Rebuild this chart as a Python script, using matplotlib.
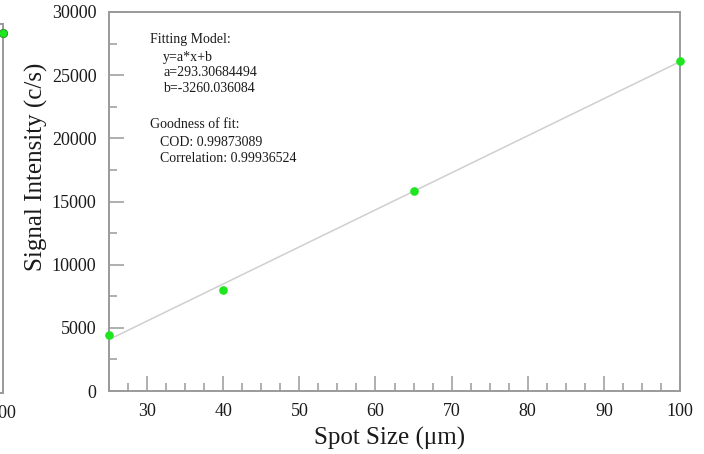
import numpy as np
import matplotlib
matplotlib.use('Agg')
import matplotlib.pyplot as plt
from matplotlib.ticker import MultipleLocator

plt.rcParams['font.family'] = ['Liberation Serif', 'DejaVu Serif']

# Data
spot_size = [25, 40, 65, 100]
signal = [4400, 8000, 15800, 26150]

# fit parameters as printed on the chart
fit_a = 293.30684494
fit_b = -3260.036084
fit_text = ['Fitting Model:', 'y=a*x+b', 'a=293.30684494', 'b=-3260.036084']
gof_text = ['Goodness of fit:', 'COD: 0.99873089', 'Correlation: 0.99936524']

# neighbouring panel, only its right edge shows in the crop
left_x = [100]
left_y = [29300]

W, H = 704, 454
fig = plt.figure(figsize=(W / 100, H / 100), dpi=100)

def px(x0, y0, x1, y1):
    # pixel box -> figure fraction [left, bottom, width, height]
    return [x0 / W, 1 - y1 / H, (x1 - x0) / W, (y1 - y0) / H]

spine_col = '#9a9a9a'
txt_col = '#1a1a1a'
dot_col = '#1ee61e'

### main panel ###
ax = fig.add_axes(px(109, 12, 680, 391))
x_fit = np.array([25, 100])
ax.plot(x_fit, fit_a * x_fit + fit_b, color='#cfcfcf', lw=1.1, zorder=2)
ax.plot(spot_size, signal, 'o', color=dot_col, ms=5.2, mec=dot_col, zorder=3,
        clip_on=False)

ax.set_xlim(25, 100)
ax.set_ylim(0, 30000)
ax.xaxis.set_major_locator(MultipleLocator(10))
ax.xaxis.set_minor_locator(MultipleLocator(2.5))
ax.yaxis.set_major_locator(MultipleLocator(5000))
ax.yaxis.set_minor_locator(MultipleLocator(2500))
ax.tick_params(which='both', direction='in', color=spine_col, width=1.1,
               labelsize=13, labelcolor=txt_col, top=False, right=False)
ax.tick_params(which='major', length=11, pad=9)
ax.tick_params(which='minor', length=5.5)
for s in ax.spines.values():
    s.set_color(spine_col)
    s.set_linewidth(1.4)

fig.text(390 / W, 1 - 438 / H, 'Spot Size (\u03bcm)', fontsize=18,
         color=txt_col, ha='center', va='center')
fig.text(36 / W, 1 - 167 / H, 'Signal Intensity (c/s)', fontsize=18,
         color=txt_col, ha='center', va='center', rotation=90)

# fit report
y_line = [40, 57, 73, 89]
x_line = [150, 163, 163, 163]
for s, xx, yy in zip(fit_text, x_line, y_line):
    fig.text(xx / W, 1 - yy / H, s, fontsize=10, color=txt_col, va='center')
y_line = [125, 142, 158]
x_line = [150, 160, 160]
for s, xx, yy in zip(gof_text, x_line, y_line):
    fig.text(xx / W, 1 - yy / H, s, fontsize=10, color=txt_col, va='center')

### left panel (cut off) ###
ax2 = fig.add_axes(px(-200, 24, 3, 393))
ax2.plot(left_x, left_y, 'o', color=dot_col, ms=6, mec='#2a8a2a', mew=0.6,
         clip_on=False, zorder=3)
ax2.set_xlim(0, 100)
ax2.set_ylim(0, 30000)
ax2.set_xticks([100])
ax2.set_yticks([])
ax2.tick_params(axis='x', direction='in', length=0, pad=9, labelsize=13,
                labelcolor=txt_col)
for s in ax2.spines.values():
    s.set_color(spine_col)
    s.set_linewidth(1.4)

plt.savefig('out.png', dpi=100)
